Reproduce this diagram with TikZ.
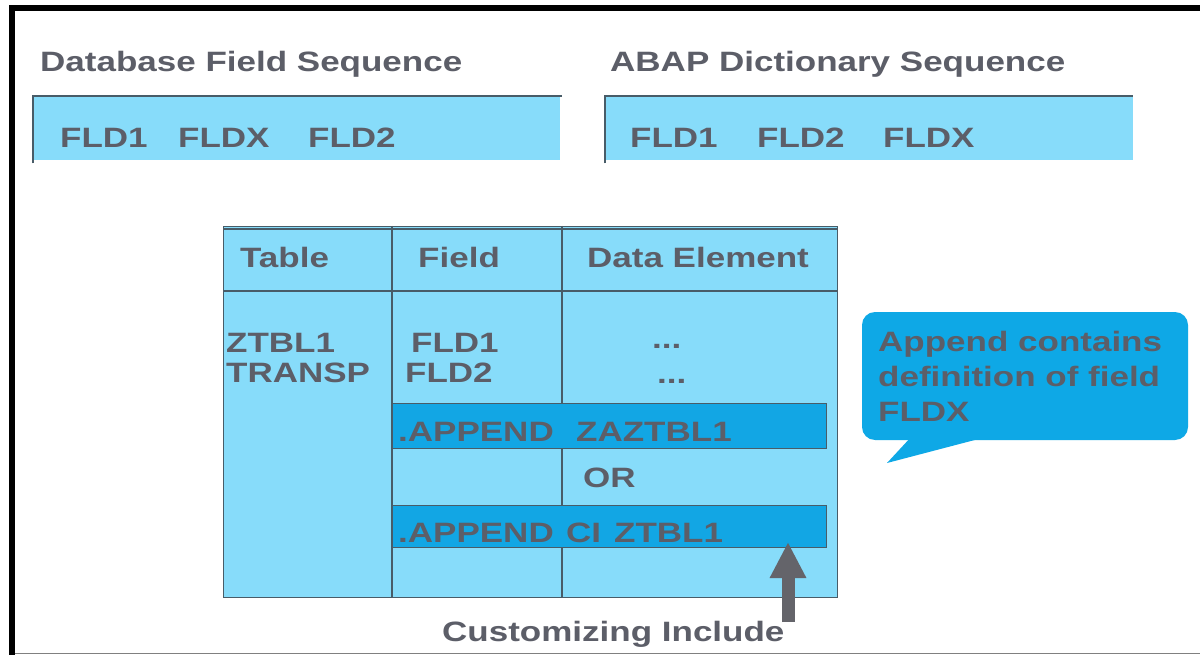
\documentclass[tikz,border=0pt]{standalone}
\usepackage{fontspec}
\setmainfont{Liberation Sans}[FakeStretch=1.25]
\usetikzlibrary{arrows.meta}
\definecolor{lightblue}{RGB}{135,220,250}
\definecolor{barblue}{RGB}{18,166,228}
\definecolor{callblue}{RGB}{14,168,230}
\definecolor{txtgrey}{RGB}{92,94,104}
\definecolor{linegrey}{RGB}{72,92,104}
\definecolor{arrowgrey}{RGB}{100,100,106}
\tikzset{
  lbl/.style={anchor=base west, inner sep=0pt, text=txtgrey,
    font=\bfseries\fontsize{28}{34}\selectfont},
  seqbox/.style={anchor=north west, fill=lightblue, inner sep=0pt},
  edge/.style={draw=linegrey, line width=1.5pt},
  tline/.style={draw=linegrey, line width=1.3pt},
  barbox/.style={anchor=north west, fill=barblue, draw=linegrey, line width=1.2pt, inner sep=0pt},
}
\begin{document}
\begin{tikzpicture}[x=1pt, y=-1pt]
\useasboundingbox (0,0) rectangle (1200,655);
\fill[white] (0,0) rectangle (1200,655);
% frame
\draw[gray, line width=1.5pt] (12,653.5) -- (1200,653.5);
\draw[black, line width=6.5pt, line cap=butt] (12,655) -- (12,8) -- (1200,8);

% titles
\node[lbl] (t1) at (40,72) {Database Field Sequence};
\node[lbl] (t2) at (610,72) {ABAP Dictionary Sequence};

% sequence boxes
\node[seqbox, minimum width=527pt, minimum height=64pt] (db) at (33,96) {};
\draw[edge] ([yshift=-3pt]db.south west) -- (db.north west) -- ([xshift=2pt]db.north east);
\node[lbl] (d1) at (60,148) {FLD1};
\node[lbl] (d2) at (178,148) {FLDX};
\node[lbl] (d3) at (308,148) {FLD2};

\node[seqbox, minimum width=528pt, minimum height=64pt] (dd) at (605,96) {};
\draw[edge] ([yshift=-3pt]dd.south west) -- (dd.north west) -- (dd.north east);
\node[lbl] (a1) at (630,148) {FLD1};
\node[lbl] (a2) at (757,148) {FLD2};
\node[lbl] (a3) at (883,148) {FLDX};

% table
\node[anchor=north west, fill=lightblue, draw=linegrey, line width=1.3pt, inner sep=0pt,
      minimum width=614pt, minimum height=371pt] (tab) at (223,226) {};
\draw[linegrey, line width=1.3pt] ([yshift=-3pt]tab.north west) -- ([yshift=-3pt]tab.north east);
\coordinate (c1top) at (392,226);
\coordinate (c1bot) at (392,597);
\coordinate (c2top) at (562,226);
\coordinate (c2mid) at (562,403);
\coordinate (c2a) at (562,448);
\coordinate (c2b) at (562,505);
\coordinate (c2c) at (562,548);
\coordinate (c2bot) at (562,597);
\coordinate (hl) at (223,291);
\coordinate (hr) at (837,291);
\draw[tline] (c1top) -- (c1bot);
\draw[tline] (c2top) -- (c2mid);
\draw[tline] (c2a) -- (c2b);
\draw[tline] (c2c) -- (c2bot);
\draw[tline] (hl) -- (hr);
\draw[tline] (392,448) -- (826,448);

\node[lbl] (h1) at (240,268) {Table};
\node[lbl] (h2) at (418,268) {Field};
\node[lbl] (h3) at (587,268) {Data Element};

\node[lbl] (r1) at (226,352) {ZTBL1};
\node[lbl] (r2) at (226,382) {TRANSP};
\node[lbl] (f1) at (411,352) {FLD1};
\node[lbl] (f2) at (405,382) {FLD2};
\node[lbl] (e1) at (652,348) {...};
\node[lbl] (e2) at (657,383) {...};

% append bars
\node[barbox, minimum width=434pt, minimum height=45pt] (bar1) at (392,403) {};
\node[lbl] (b1a) at (398,441) {.APPEND};
\node[lbl] (b1b) at (576,441) {ZAZTBL1};
\node[lbl] (or) at (583,487) {OR};
\node[barbox, minimum width=434pt, minimum height=42pt] (bar2) at (392,505) {};
\node[lbl] (b2a) at (398,542) {.APPEND};
\node[lbl] (b2b) at (566,542) {CI};
\node[lbl] (b2c) at (614,542) {ZTBL1};

% arrow
\node[lbl] (cust) at (442,641) {Customizing Include};
\coordinate (arrbase) at (788,622);
\coordinate (arrtip) at (788,542);
\draw[arrowgrey, line width=13pt, -{Triangle[width=34pt,length=36pt]}] (arrbase) -- (arrtip);

% callout
\fill[callblue, rounded corners=13pt] (862,312) rectangle (1188,440);
\fill[callblue] (912,436) -- (887,463) -- (990,436) -- cycle;
\node[lbl, anchor=north west, align=left, font=\bfseries\fontsize{28}{35}\selectfont] (callout) at (878,331)
  {Append contains\\definition of field\\FLDX};
\end{tikzpicture}
\end{document}
